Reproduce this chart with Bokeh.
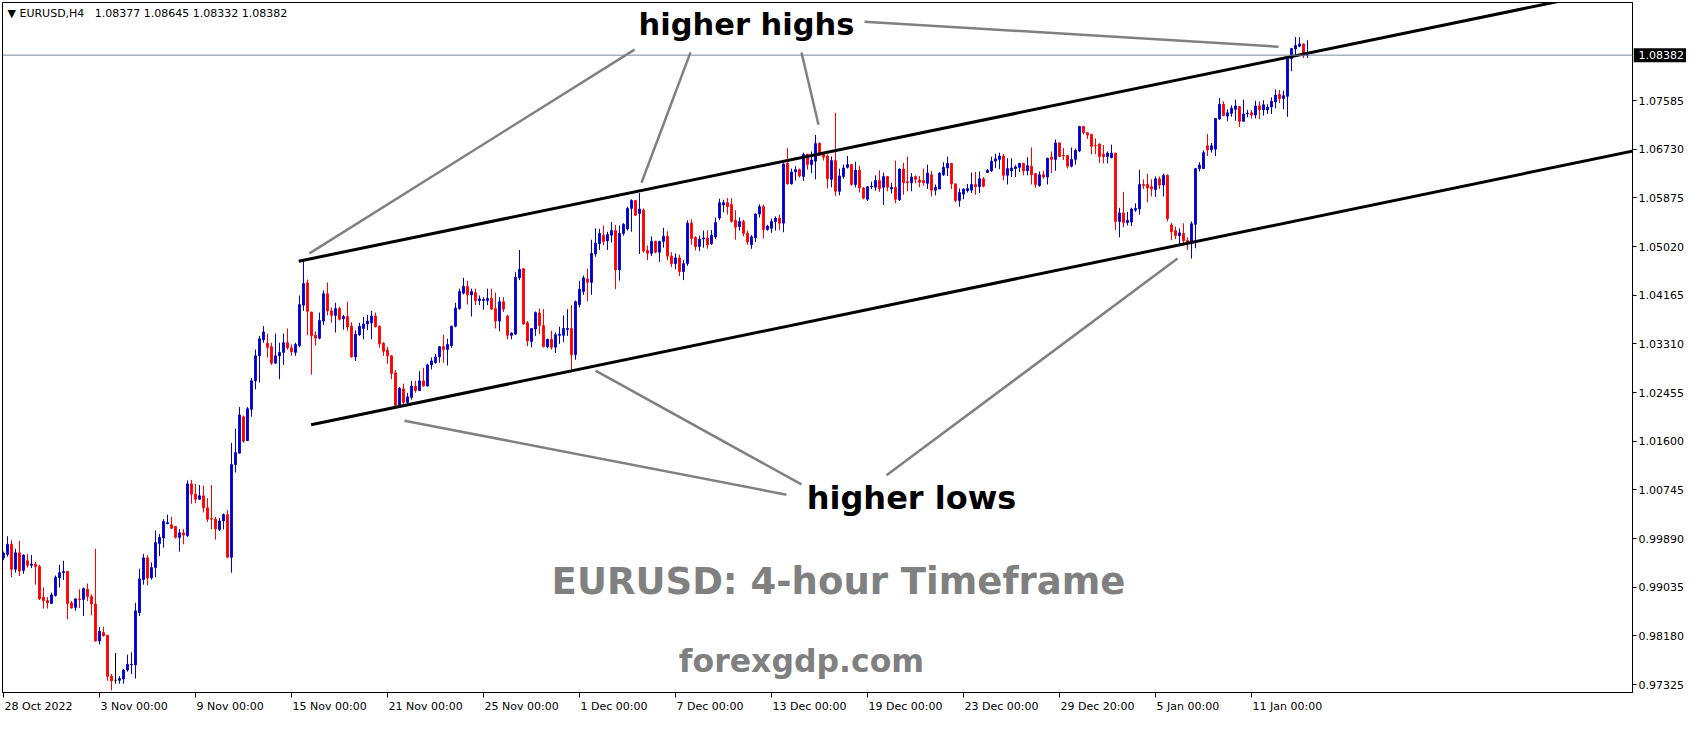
from bokeh.plotting import figure
from bokeh.layouts import column, row
from bokeh.models import (ColumnDataSource, FixedTicker, Label, Span,
                          NumeralTickFormatter, CustomJSTickFormatter)
from bokeh.core.properties import value
from bokeh.embed import file_html
from bokeh.resources import INLINE

# ---------------- data (EURUSD H4 candles) ----------------
opens = [
    0.9955, 0.9961, 0.9979, 0.9935, 0.9964, 0.9933, 0.9950, 0.9942, 0.9944, 0.9940,
    0.9886, 0.9880, 0.9875, 0.9889, 0.9920, 0.9929, 0.9931, 0.9876, 0.9868, 0.9883,
    0.9882, 0.9900, 0.9887, 0.9874, 0.9809, 0.9824, 0.9819, 0.9747, 0.9740, 0.9740,
    0.9742, 0.9758, 0.9767, 0.9767, 0.9859, 0.9917, 0.9955, 0.9920, 0.9938, 0.9980,
    0.9990, 1.0015, 1.0013, 1.0010, 0.9991, 0.9999, 0.9994, 1.0085, 1.0067, 1.0058,
    1.0064, 1.0043, 1.0024, 1.0023, 1.0005, 1.0020, 1.0031, 0.9956, 1.0119, 1.0139,
    1.0203, 1.0161, 1.0216, 1.0266, 1.0310, 1.0338, 1.0332, 1.0326, 1.0297, 1.0310,
    1.0316, 1.0333, 1.0324, 1.0316, 1.0328, 1.0399, 1.0438, 1.0387, 1.0346, 1.0341,
    1.0371, 1.0419, 1.0389, 1.0381, 1.0393, 1.0375, 1.0379, 1.0362, 1.0308, 1.0347,
    1.0358, 1.0366, 1.0368, 1.0380, 1.0362, 1.0332, 1.0320, 1.0310, 1.0280, 1.0223,
    1.0252, 1.0228, 1.0237, 1.0257, 1.0249, 1.0266, 1.0257, 1.0294, 1.0298, 1.0308,
    1.0326, 1.0321, 1.0328, 1.0362, 1.0393, 1.0420, 1.0432, 1.0417, 1.0421, 1.0407,
    1.0407, 1.0407, 1.0411, 1.0393, 1.0371, 1.0405, 1.0380, 1.0346, 1.0348, 1.0447,
    1.0463, 1.0368, 1.0335, 1.0357, 1.0385, 1.0363, 1.0326, 1.0339, 1.0325, 1.0346,
    1.0346, 1.0356, 1.0358, 1.0312, 1.0400, 1.0423, 1.0445, 1.0439, 1.0489, 1.0507,
    1.0522, 1.0512, 1.0522, 1.0530, 1.0461, 1.0525, 1.0533, 1.0569, 1.0583, 1.0560,
    1.0566, 1.0495, 1.0490, 1.0511, 1.0492, 1.0511, 1.0520, 1.0485, 1.0472, 1.0482,
    1.0458, 1.0472, 1.0543, 1.0518, 1.0502, 1.0515, 1.0517, 1.0507, 1.0519, 1.0552,
    1.0575, 1.0579, 1.0576, 1.0548, 1.0537, 1.0546, 1.0525, 1.0505, 1.0517, 1.0559,
    1.0572, 1.0532, 1.0534, 1.0546, 1.0552, 1.0543, 1.0648, 1.0612, 1.0633, 1.0637,
    1.0625, 1.0664, 1.0646, 1.0652, 1.0683, 1.0664, 1.0661, 1.0620, 1.0653, 1.0599,
    1.0625, 1.0641, 1.0646, 1.0611, 1.0636, 1.0605, 1.0585, 1.0607, 1.0606, 1.0618,
    1.0606, 1.0625, 1.0603, 1.0606, 1.0584, 1.0638, 1.0616, 1.0614, 1.0625, 1.0619,
    1.0618, 1.0613, 1.0628, 1.0601, 1.0603, 1.0628, 1.0640, 1.0648, 1.0612, 1.0583,
    1.0594, 1.0600, 1.0601, 1.0611, 1.0607, 1.0621, 1.0632, 1.0635, 1.0652, 1.0655,
    1.0661, 1.0627, 1.0635, 1.0639, 1.0641, 1.0648, 1.0635, 1.0643, 1.0630, 1.0609,
    1.0628, 1.0624, 1.0659, 1.0655, 1.0684, 1.0662, 1.0662, 1.0643, 1.0655, 1.0670,
    1.0713, 1.0702, 1.0699, 1.0680, 1.0682, 1.0664, 1.0660, 1.0658, 1.0666, 1.0546,
    1.0561, 1.0544, 1.0545, 1.0566, 1.0568, 1.0611, 1.0611, 1.0607, 1.0602, 1.0621,
    1.0610, 1.0627, 1.0540, 1.0530, 1.0521, 1.0525, 1.0513, 1.0508, 1.0541, 1.0639,
    1.0639, 1.0679, 1.0672, 1.0673, 1.0726, 1.0752, 1.0731, 1.0736, 1.0743, 1.0748,
    1.0722, 1.0735, 1.0737, 1.0733, 1.0749, 1.0742, 1.0742, 1.0747, 1.0756, 1.0769,
    1.0762, 1.0766, 1.0832, 1.0849, 1.0854, 1.0858, 1.08377,
]
highs = [
    0.9966, 0.9993, 0.9986, 0.9971, 0.9985, 0.9961, 0.9962, 0.9960, 0.9948, 0.9943,
    0.9903, 0.9886, 0.9894, 0.9924, 0.9943, 0.9950, 0.9932, 0.9879, 0.9883, 0.9900,
    0.9903, 0.9910, 0.9891, 0.9971, 0.9834, 0.9834, 0.9819, 0.9751, 0.9788, 0.9747,
    0.9760, 0.9785, 0.9789, 0.9876, 0.9936, 0.9962, 0.9960, 0.9947, 1.0003, 0.9997,
    1.0023, 1.0031, 1.0027, 1.0011, 1.0006, 1.0006, 1.0091, 1.0092, 1.0085, 1.0083,
    1.0082, 1.0060, 1.0083, 1.0027, 1.0025, 1.0033, 1.0039, 1.0157, 1.0182, 1.0220,
    1.0205, 1.0220, 1.0271, 1.0321, 1.0345, 1.0362, 1.0349, 1.0333, 1.0349, 1.0333,
    1.0349, 1.0358, 1.0330, 1.0333, 1.0416, 1.0476, 1.0444, 1.0387, 1.0353, 1.0386,
    1.0425, 1.0439, 1.0395, 1.0403, 1.0396, 1.0382, 1.0405, 1.0369, 1.0355, 1.0368,
    1.0378, 1.0382, 1.0389, 1.0386, 1.0363, 1.0334, 1.0326, 1.0311, 1.0285, 1.0255,
    1.0261, 1.0245, 1.0266, 1.0266, 1.0283, 1.0289, 1.0296, 1.0307, 1.0313, 1.0327,
    1.0347, 1.0340, 1.0363, 1.0403, 1.0428, 1.0447, 1.0442, 1.0428, 1.0428, 1.0416,
    1.0413, 1.0428, 1.0428, 1.0421, 1.0413, 1.0413, 1.0382, 1.0351, 1.0457, 1.0496,
    1.0463, 1.0371, 1.0359, 1.0388, 1.0393, 1.0392, 1.0340, 1.0354, 1.0351, 1.0361,
    1.0381, 1.0392, 1.0399, 1.0407, 1.0442, 1.0451, 1.0463, 1.0514, 1.0534, 1.0533,
    1.0539, 1.0528, 1.0545, 1.0540, 1.0539, 1.0543, 1.0572, 1.0585, 1.0583, 1.0596,
    1.0569, 1.0504, 1.0520, 1.0512, 1.0512, 1.0535, 1.0529, 1.0492, 1.0490, 1.0488,
    1.0478, 1.0548, 1.0550, 1.0520, 1.0521, 1.0530, 1.0530, 1.0531, 1.0553, 1.0586,
    1.0584, 1.0587, 1.0587, 1.0566, 1.0553, 1.0549, 1.0530, 1.0522, 1.0560, 1.0576,
    1.0576, 1.0540, 1.0551, 1.0555, 1.0558, 1.0648, 1.0675, 1.0639, 1.0643, 1.0639,
    1.0667, 1.0665, 1.0669, 1.0698, 1.0685, 1.0667, 1.0664, 1.0660, 1.0737, 1.0639,
    1.0646, 1.0661, 1.0647, 1.0651, 1.0644, 1.0606, 1.0608, 1.0616, 1.0627, 1.0636,
    1.0632, 1.0626, 1.0614, 1.0653, 1.0639, 1.0649, 1.0660, 1.0631, 1.0627, 1.0626,
    1.0639, 1.0646, 1.0635, 1.0611, 1.0632, 1.0650, 1.0660, 1.0649, 1.0613, 1.0604,
    1.0604, 1.0612, 1.0632, 1.0633, 1.0634, 1.0624, 1.0638, 1.0660, 1.0665, 1.0667,
    1.0665, 1.0657, 1.0657, 1.0645, 1.0649, 1.0649, 1.0659, 1.0676, 1.0631, 1.0634,
    1.0635, 1.0658, 1.0669, 1.0690, 1.0685, 1.0675, 1.0663, 1.0676, 1.0674, 1.0714,
    1.0714, 1.0702, 1.0700, 1.0692, 1.0683, 1.0680, 1.0669, 1.0681, 1.0666, 1.0570,
    1.0598, 1.0563, 1.0570, 1.0578, 1.0637, 1.0620, 1.0630, 1.0620, 1.0625, 1.0625,
    1.0630, 1.0629, 1.0544, 1.0537, 1.0534, 1.0543, 1.0518, 1.0546, 1.0640, 1.0650,
    1.0671, 1.0700, 1.0684, 1.0727, 1.0763, 1.0757, 1.0743, 1.0750, 1.0760, 1.0748,
    1.0760, 1.0742, 1.0742, 1.0758, 1.0757, 1.0759, 1.0752, 1.0764, 1.0778, 1.0777,
    1.0776, 1.0832, 1.0850, 1.0870, 1.0870, 1.0858, 1.08645,
]
lows = [
    0.9951, 0.9957, 0.9921, 0.9929, 0.9923, 0.9927, 0.9938, 0.9937, 0.9908, 0.9881,
    0.9866, 0.9866, 0.9874, 0.9887, 0.9903, 0.9916, 0.9847, 0.9866, 0.9862, 0.9867,
    0.9853, 0.9879, 0.9854, 0.9808, 0.9803, 0.9817, 0.9739, 0.9722, 0.9734, 0.9734,
    0.9734, 0.9755, 0.9751, 0.9743, 0.9853, 0.9908, 0.9907, 0.9917, 0.9921, 0.9958,
    0.9973, 1.0015, 1.0006, 0.9989, 0.9966, 0.9979, 0.9992, 1.0050, 1.0051, 1.0058,
    1.0035, 1.0018, 1.0005, 0.9987, 1.0002, 1.0005, 0.9955, 0.9929, 1.0105, 1.0139,
    1.0157, 1.0161, 1.0203, 1.0251, 1.0263, 1.0333, 1.0307, 1.0294, 1.0296, 1.0269,
    1.0294, 1.0321, 1.0310, 1.0310, 1.0325, 1.0389, 1.0346, 1.0277, 1.0328, 1.0339,
    1.0364, 1.0381, 1.0368, 1.0351, 1.0372, 1.0356, 1.0354, 1.0307, 1.0301, 1.0345,
    1.0339, 1.0355, 1.0339, 1.0360, 1.0324, 1.0310, 1.0296, 1.0269, 1.0221, 1.0222,
    1.0225, 1.0226, 1.0233, 1.0245, 1.0248, 1.0256, 1.0256, 1.0286, 1.0296, 1.0298,
    1.0298, 1.0293, 1.0324, 1.0360, 1.0391, 1.0418, 1.0400, 1.0379, 1.0399, 1.0399,
    1.0391, 1.0399, 1.0391, 1.0358, 1.0353, 1.0387, 1.0339, 1.0339, 1.0348, 1.0443,
    1.0365, 1.0327, 1.0325, 1.0345, 1.0348, 1.0325, 1.0323, 1.0321, 1.0315, 1.0331,
    1.0334, 1.0345, 1.0286, 1.0303, 1.0395, 1.0417, 1.0406, 1.0417, 1.0484, 1.0496,
    1.0504, 1.0496, 1.0509, 1.0427, 1.0442, 1.0521, 1.0530, 1.0528, 1.0556, 1.0489,
    1.0491, 1.0478, 1.0485, 1.0490, 1.0475, 1.0500, 1.0478, 1.0466, 1.0462, 1.0450,
    1.0443, 1.0468, 1.0505, 1.0495, 1.0494, 1.0500, 1.0498, 1.0505, 1.0515, 1.0548,
    1.0562, 1.0558, 1.0544, 1.0514, 1.0530, 1.0520, 1.0505, 1.0498, 1.0510, 1.0553,
    1.0516, 1.0530, 1.0526, 1.0530, 1.0531, 1.0527, 1.0611, 1.0611, 1.0618, 1.0623,
    1.0617, 1.0637, 1.0631, 1.0620, 1.0661, 1.0653, 1.0604, 1.0606, 1.0591, 1.0592,
    1.0621, 1.0639, 1.0609, 1.0606, 1.0597, 1.0585, 1.0582, 1.0603, 1.0600, 1.0598,
    1.0575, 1.0599, 1.0595, 1.0578, 1.0582, 1.0593, 1.0599, 1.0599, 1.0613, 1.0606,
    1.0609, 1.0603, 1.0590, 1.0592, 1.0603, 1.0626, 1.0626, 1.0603, 1.0580, 1.0572,
    1.0585, 1.0597, 1.0596, 1.0593, 1.0596, 1.0606, 1.0631, 1.0633, 1.0640, 1.0638,
    1.0618, 1.0611, 1.0624, 1.0624, 1.0633, 1.0627, 1.0627, 1.0611, 1.0605, 1.0607,
    1.0621, 1.0611, 1.0631, 1.0635, 1.0659, 1.0654, 1.0639, 1.0641, 1.0646, 1.0668,
    1.0699, 1.0691, 1.0664, 1.0664, 1.0649, 1.0648, 1.0648, 1.0657, 1.0531, 1.0518,
    1.0536, 1.0539, 1.0538, 1.0563, 1.0558, 1.0603, 1.0580, 1.0590, 1.0589, 1.0603,
    1.0590, 1.0546, 1.0513, 1.0515, 1.0506, 1.0508, 1.0496, 1.0481, 1.0499, 1.0634,
    1.0639, 1.0661, 1.0667, 1.0661, 1.0725, 1.0731, 1.0722, 1.0730, 1.0723, 1.0712,
    1.0721, 1.0729, 1.0727, 1.0727, 1.0726, 1.0732, 1.0735, 1.0735, 1.0745, 1.0754,
    1.0743, 1.0730, 1.0810, 1.0839, 1.0852, 1.0833, 1.08332,
]
closes = [
    0.9963, 0.9979, 0.9935, 0.9964, 0.9932, 0.9960, 0.9942, 0.9944, 0.9940, 0.9883,
    0.9880, 0.9876, 0.9890, 0.9921, 0.9929, 0.9931, 0.9875, 0.9867, 0.9883, 0.9882,
    0.9901, 0.9887, 0.9874, 0.9809, 0.9826, 0.9818, 0.9747, 0.9739, 0.9740, 0.9743,
    0.9758, 0.9768, 0.9768, 0.9862, 0.9918, 0.9955, 0.9920, 0.9938, 0.9982, 0.9991,
    1.0019, 1.0017, 1.0007, 0.9991, 0.9999, 0.9995, 1.0085, 1.0067, 1.0058, 1.0064,
    1.0043, 1.0023, 1.0023, 1.0006, 1.0020, 1.0031, 0.9956, 1.0119, 1.0140, 1.0206,
    1.0160, 1.0217, 1.0266, 1.0310, 1.0340, 1.0352, 1.0325, 1.0297, 1.0310, 1.0316,
    1.0333, 1.0324, 1.0317, 1.0330, 1.0400, 1.0437, 1.0388, 1.0345, 1.0341, 1.0372,
    1.0419, 1.0389, 1.0381, 1.0393, 1.0374, 1.0379, 1.0361, 1.0308, 1.0348, 1.0362,
    1.0366, 1.0371, 1.0380, 1.0361, 1.0331, 1.0318, 1.0310, 1.0279, 1.0223, 1.0253,
    1.0228, 1.0238, 1.0257, 1.0249, 1.0266, 1.0257, 1.0294, 1.0301, 1.0308, 1.0326,
    1.0321, 1.0330, 1.0362, 1.0394, 1.0423, 1.0432, 1.0417, 1.0423, 1.0407, 1.0410,
    1.0409, 1.0411, 1.0392, 1.0371, 1.0405, 1.0392, 1.0346, 1.0350, 1.0448, 1.0462,
    1.0366, 1.0336, 1.0358, 1.0386, 1.0363, 1.0326, 1.0339, 1.0325, 1.0347, 1.0348,
    1.0358, 1.0358, 1.0312, 1.0405, 1.0427, 1.0447, 1.0439, 1.0490, 1.0508, 1.0525,
    1.0511, 1.0523, 1.0530, 1.0461, 1.0525, 1.0541, 1.0569, 1.0583, 1.0557, 1.0568,
    1.0494, 1.0490, 1.0511, 1.0492, 1.0511, 1.0520, 1.0485, 1.0472, 1.0482, 1.0458,
    1.0472, 1.0543, 1.0516, 1.0502, 1.0515, 1.0517, 1.0505, 1.0522, 1.0544, 1.0579,
    1.0579, 1.0572, 1.0546, 1.0536, 1.0546, 1.0525, 1.0510, 1.0519, 1.0559, 1.0572,
    1.0532, 1.0538, 1.0546, 1.0552, 1.0543, 1.0647, 1.0612, 1.0633, 1.0637, 1.0626,
    1.0664, 1.0646, 1.0654, 1.0683, 1.0662, 1.0659, 1.0621, 1.0653, 1.0599, 1.0626,
    1.0640, 1.0646, 1.0611, 1.0636, 1.0605, 1.0587, 1.0607, 1.0608, 1.0618, 1.0604,
    1.0625, 1.0606, 1.0606, 1.0585, 1.0638, 1.0614, 1.0614, 1.0624, 1.0620, 1.0615,
    1.0614, 1.0631, 1.0601, 1.0606, 1.0631, 1.0641, 1.0648, 1.0612, 1.0583, 1.0597,
    1.0603, 1.0604, 1.0611, 1.0607, 1.0621, 1.0608, 1.0636, 1.0652, 1.0656, 1.0661,
    1.0627, 1.0639, 1.0640, 1.0642, 1.0648, 1.0635, 1.0644, 1.0628, 1.0611, 1.0628,
    1.0624, 1.0657, 1.0655, 1.0684, 1.0660, 1.0661, 1.0643, 1.0655, 1.0671, 1.0713,
    1.0702, 1.0698, 1.0678, 1.0679, 1.0660, 1.0660, 1.0666, 1.0666, 1.0546, 1.0561,
    1.0544, 1.0548, 1.0568, 1.0569, 1.0611, 1.0609, 1.0605, 1.0603, 1.0621, 1.0610,
    1.0627, 1.0551, 1.0528, 1.0521, 1.0526, 1.0512, 1.0508, 1.0542, 1.0639, 1.0645,
    1.0667, 1.0672, 1.0679, 1.0727, 1.0752, 1.0732, 1.0737, 1.0745, 1.0749, 1.0722,
    1.0735, 1.0736, 1.0733, 1.0749, 1.0742, 1.0751, 1.0747, 1.0757, 1.0768, 1.0762,
    1.0767, 1.0832, 1.0850, 1.0855, 1.0858, 1.0837, 1.08382,
]
bars = list(range(len(opens)))

y_ticks = [0.97325, 0.98180, 0.99035, 0.99890, 1.00745, 1.01600, 1.02455,
           1.03310, 1.04165, 1.05020, 1.05875, 1.06730, 1.07585]
x_tick_bars = [0, 24, 48, 72, 96, 120, 144, 168, 192, 216, 240, 264, 288, 312]
x_tick_labels = ["28 Oct 2022", "3 Nov 00:00", "9 Nov 00:00", "15 Nov 00:00",
                 "21 Nov 00:00", "25 Nov 00:00", "1 Dec 00:00", "7 Dec 00:00",
                 "13 Dec 00:00", "19 Dec 00:00", "23 Dec 00:00", "29 Dec 20:00",
                 "5 Jan 00:00", "11 Jan 00:00"]
symbol = "EURUSD,H4"

# trend channel (bar index, price)
upper_x = [73.8, 409.5]
upper_y = [1.04762, 1.09626]
lower_x = [76.9, 409.5]
lower_y = [1.01888, 1.06729]

# pointer lines (bar index, price)
hh_x0 = [157.75, 171.75, 199.5, 215.25]
hh_y0 = [1.0848, 1.0843, 1.0843, 1.0897]
hh_x1 = [76.5, 159.5, 203.75, 318.75]
hh_y1 = [1.0490, 1.0614, 1.0716, 1.0853]
hl_x0 = [195.75, 199.5, 220.75]
hl_y0 = [1.0066, 1.0084, 1.0100]
hl_x1 = [100.25, 148.0, 293.5]
hl_y1 = [1.0196, 1.0284, 1.0481]

# ---------------- figure ----------------
BULL, BEAR, DOJI = "#0000CD", "#FF0000", "#000000"
FONT = "DejaVu Sans"
FW = 1630
AXW = 54
X0, X1 = -0.25, -0.25 + FW / 4.0
Y0, Y1 = 0.97185, 1.09307

p = figure(frame_width=FW, frame_height=690, x_range=(X0, X1), y_range=(Y0, Y1),
           output_backend="svg", toolbar_location=None, y_axis_location="right",
           min_border_left=2, min_border_top=2, min_border_right=AXW,
           min_border_bottom=6)
p.background_fill_color = "white"
p.border_fill_color = "white"
p.outline_line_color = "black"
p.outline_line_width = 1
p.grid.visible = False

# right price axis
ya = p.yaxis[0]
ya.ticker = FixedTicker(ticks=y_ticks)
ya.formatter = NumeralTickFormatter(format="0.00000")
ya.major_label_text_font = FONT
ya.major_label_text_font_size = "11px"
ya.major_label_text_color = "black"
ya.major_tick_out = 4
ya.major_tick_in = 0
ya.minor_tick_out = 0
ya.minor_tick_in = 0
ya.major_label_standoff = 2
ya.axis_line_color = "black"

# bottom time axis: tick marks here, left-aligned labels in the strip below
xa = p.xaxis[0]
xa.ticker = FixedTicker(ticks=x_tick_bars)
xa.formatter = CustomJSTickFormatter(code="return ''")
xa.major_label_text_font_size = "0px"
xa.major_label_standoff = 0
xa.major_tick_out = 5
xa.major_tick_in = 0
xa.minor_tick_out = 0
xa.minor_tick_in = 0
xa.axis_line_color = "black"

# candles
colors = [BULL if c > o else (BEAR if c < o else DOJI) for o, c in zip(opens, closes)]
src = ColumnDataSource(dict(
    x=bars, h=highs, l=lows,
    top=[max(o, c) for o, c in zip(opens, closes)],
    bottom=[min(o, c) for o, c in zip(opens, closes)],
    color=colors))
p.segment(x0="x", y0="l", x1="x", y1="h", line_color="color", line_width=1, source=src)
p.vbar(x="x", width=0.45, top="top", bottom="bottom", fill_color="color",
       line_color="color", line_width=1, source=src)

# current price line
last_o, last_h, last_l, last_c = opens[-1], highs[-1], lows[-1], closes[-1]
p.add_layout(Span(location=last_c, dimension="width", line_color="#778899", line_width=1))

# channel lines
p.line(upper_x, upper_y, line_color="black", line_width=3)
p.line(lower_x, lower_y, line_color="black", line_width=3)

# pointer lines
p.segment(x0=hh_x0, y0=hh_y0, x1=hh_x1, y1=hh_y1, line_color="#808080", line_width=2.5)
p.segment(x0=hl_x0, y0=hl_y0, x1=hl_x1, y1=hl_y1, line_color="#808080", line_width=2.5)

# texts
p.add_layout(Label(x=1.0, y=1.09114,
                   text=f"\u25bc {symbol}\u00a0\u00a0 {last_o:.5f} {last_h:.5f} {last_l:.5f} {last_c:.5f}",
                   text_align="left", text_baseline="middle", text_font=FONT,
                   text_font_size="11px", text_color="black"))
p.add_layout(Label(x=185.75, y=1.0892, text="higher highs", text_align="center",
                   text_baseline="middle", text_font=FONT, text_font_style="bold",
                   text_font_size="30.5px", text_color="black"))
p.add_layout(Label(x=227.0, y=1.0061, text="higher lows", text_align="center",
                   text_baseline="middle", text_font=FONT, text_font_style="bold",
                   text_font_size="32px", text_color="black"))
p.add_layout(Label(x=208.75, y=0.99134, text="EURUSD: 4-hour Timeframe", text_align="center",
                   text_baseline="middle", text_font=FONT, text_font_style="bold",
                   text_font_size="37px", text_color="#808080"))
p.add_layout(Label(x=199.5, y=0.97746, text="forexgdp.com", text_align="center",
                   text_baseline="middle", text_font=FONT, text_font_style="bold",
                   text_font_size="31.5px", text_color="#808080"))

# strip below the chart holding the left-aligned time labels
s = figure(frame_width=FW, frame_height=16, x_range=p.x_range, y_range=(0, 1),
           output_backend="svg", toolbar_location=None,
           x_axis_location=None, y_axis_location=None,
           min_border_left=2, min_border_right=AXW, min_border_top=0,
           min_border_bottom=0)
s.outline_line_color = None
s.background_fill_color = "white"
s.border_fill_color = "white"
s.grid.visible = False
s.text(x=x_tick_bars, y=[0.92] * len(x_tick_bars), text=x_tick_labels,
       x_offset=1, text_align="left", text_baseline="top",
       text_font=value(FONT), text_font_size="11px", text_color="black")

# transparent overlay on the price-axis area: current price box
BOXW = AXW - 1
q = figure(frame_width=BOXW, frame_height=690, x_range=(0, 1), y_range=p.y_range,
           output_backend="svg", toolbar_location=None,
           x_axis_location=None, y_axis_location=None,
           min_border_left=0, min_border_right=0, min_border_top=2,
           min_border_bottom=0,
           styles={"margin-left": f"-{BOXW}px", "position": "relative", "z-index": "2"})
q.outline_line_color = None
q.background_fill_alpha = 0
q.border_fill_alpha = 0
q.grid.visible = False
q.rect(x=[0.5], y=[last_c], width=1, height=14, height_units="screen",
       fill_color="black", line_color=None)
q.text(x=[0], y=[last_c], text=[f"{last_c:.5f}"], x_offset=5,
       text_align="left", text_baseline="middle", text_font=value(FONT),
       text_font_size="11px", text_color="white")

layout = row(column(p, s, spacing=0), q, spacing=0)
open("out.html", "w").write(file_html(layout, INLINE, "EURUSD H4"))
